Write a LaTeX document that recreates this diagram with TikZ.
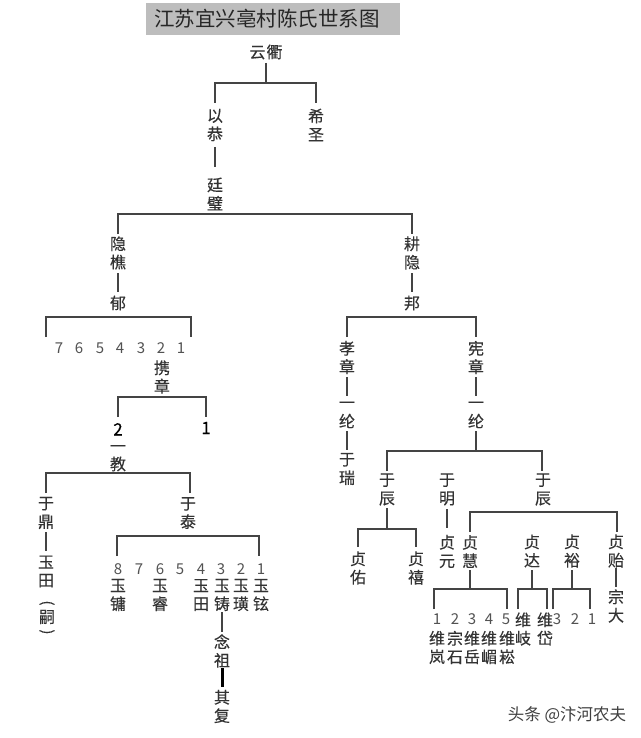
\documentclass[tikz,border=0pt]{standalone}
\usepackage{fontspec}
\usepackage{graphicx}
\setmainfont{Noto Sans CJK SC}
\newfontfamily\cnheavy[FakeBold=0.25]{Noto Sans CJK SC}
\definecolor{ink}{HTML}{333333}
\definecolor{ln}{HTML}{444444}
\definecolor{band}{HTML}{BDBDBD}
\tikzset{
  cn/.style={font=\cnheavy\fontsize{16}{18.4}\selectfont,text=ink,align=center,inner sep=0pt,anchor=center,yshift=-1pt},
  num/.style={font=\fontsize{15}{16}\selectfont,text=ink!85,inner sep=0pt,anchor=center},
  bignum/.style={font=\cnheavy\fontsize{17}{18}\selectfont,text=black,inner sep=0pt,anchor=center},
  conn/.style={draw=ln,line width=1.2pt},
  thickconn/.style={draw=black,line width=3pt},
}
% stem between two named nodes, with the visible span from y #3 to y #4
\newcommand\stem[4]{\draw[conn] (#1.center |- 0,#3) -- (#2.center |- 0,#4);}
% stem from a named node down to a bracket's bar
\newcommand\drop[3]{\draw[conn] (#1.center |- 0,#2) -- (#1.center |- #3);}
% bracket: name, left x, right x, bar y, end y
\newcommand\brk[5]{%
  \coordinate (#1L) at (#2,#4);\coordinate (#1R) at (#3,#4);
  \coordinate (#1l) at (#2,#5);\coordinate (#1r) at (#3,#5);
  \draw[conn] (#1l) -- (#1L) -- (#1R) -- (#1r);}
\begin{document}
\begin{tikzpicture}[x=1pt,y=-1pt]
\useasboundingbox (0,0) rectangle (640,738);
\fill[white] (0,0) rectangle (640,738);
\node[fill=band,minimum width=254pt,minimum height=32pt,inner xsep=8pt,inner ysep=0pt,text width=238pt,align=left,font=\fontsize{20.5}{24}\selectfont,text=black!85] (title) at (273,19) {江苏宜兴亳村陈氏世系图};
\node[cn] (yq) at (266,51) {云\hspace{1pt}衢};
\node[cn] (yg) at (215,124) {以\\恭};
\node[cn] (xs) at (316,124) {希\\圣};
\node[cn] (tb) at (215,193) {廷\\璧};
\node[cn] (yq2) at (118,252) {隐\\樵};
\node[cn] (yu) at (118,302) {郁};
\node[cn] (gy) at (412,252) {耕\\隐};
\node[cn] (bang) at (412,302) {邦};
\foreach \i/\x in {7/59,6/79,5/100,4/120,3/141,2/161,1/181}{\node[num] (a\i) at (\x,348) {\i};}
\node[cn] (xz) at (162,376) {携\\章};
\node[bignum] (b2) at (118,435.5) {\smash{2}};
\node[bignum] (b1) at (206,428) {1};
\node[cn] (yi0) at (118,451) {\smash{一}};
\node[cn] (jiao) at (118,463) {教};
\node[cn] (yd) at (46,512) {于\\鼎};
\node[cn] (yt) at (188,512) {于\\泰};
\node[cn] (ytian) at (46,570.5) {玉\\田};
\node[cn,font=\cnheavy\fontsize{15}{15}\selectfont] (pa) at (47,602) {\rotatebox{-90}{(}};
\node[cn] (si) at (47,616) {嗣};
\node[cn,font=\cnheavy\fontsize{15}{15}\selectfont] (pb) at (47,631) {\rotatebox{-90}{)}};
\foreach \i/\x in {8/118,7/139,6/160,5/180,4/201,3/221,2/241,1/261}{\node[num] (c\i) at (\x,569.5) {\i};}
\node[cn] (y8) at (118,594) {玉\\镛};
\node[cn] (y6) at (160,594) {玉\\睿};
\node[cn] (y4) at (201,594) {玉\\田};
\node[cn] (y3) at (222,594) {玉\\铸};
\node[cn] (y2) at (241,594) {玉\\璜};
\node[cn] (y1) at (261,594) {玉\\铉};
\node[cn] (nz) at (222,650) {念\\祖};
\node[cn] (qf) at (222,705.5) {其\\复};
\node[cn] (xz1) at (347,356.5) {孝\\章};
\node[cn] (yi1) at (347,407.5) {\smash{一}};
\node[cn] (l1) at (347,420) {纶};
\node[cn] (yr) at (347,468) {于\\瑞};
\node[cn] (xz2) at (476,356.5) {宪\\章};
\node[cn] (yi2) at (476,407.5) {\smash{一}};
\node[cn] (l2) at (476,420) {纶};
\node[cn] (yc1) at (387,488.5) {于\\辰};
\node[cn] (ym) at (447,488.5) {于\\明};
\node[cn] (yc2) at (543,488.5) {于\\辰};
\node[cn] (zy) at (358,567) {贞\\佑};
\node[cn] (zx) at (416,567) {贞\\禧};
\node[cn] (zyuan) at (447,550.5) {贞\\元};
\node[cn] (zh) at (470,550.5) {贞\\慧};
\node[cn] (zd) at (532,550) {贞\\达};
\node[cn] (zyu) at (572,550) {贞\\裕};
\node[cn] (zyi) at (616,550) {贞\\贻};
\node[cn] (zdd) at (616,605) {宗\\大};
\foreach \n/\i/\x in {d1/1/437,d2/2/455,d3/3/472,d4/4/489,d5/5/506,e3/3/557,e2/2/575,e1/1/592}{\node[num] (\n) at (\x,619) {\i};}
\node[cn] (w1) at (437,646.5) {维\\岚};
\node[cn] (w2) at (455,646.5) {宗\\石};
\node[cn] (w3) at (472,646.5) {维\\岳};
\node[cn] (w4) at (489,646.5) {维\\嵋};
\node[cn] (w5) at (507,646.5) {维\\崧};
\node[cn] (wq) at (523,628) {维\\岐};
\node[cn] (wd) at (545,628) {维\\岱};
\node[font=\fontsize{16.5}{18}\selectfont,text=black!75,inner sep=0pt] (wm) at (567,715) {头条 @汴河农夫};
% brackets
\brk{A}{215}{316}{83}{103}
\brk{B}{118}{412}{214}{234}
\brk{C}{46}{191}{317}{337}
\brk{D}{347}{476}{317}{337}
\brk{E}{118}{206}{397}{417}
\brk{F}{46}{190}{473}{493}
\brk{G}{117}{259}{536}{556}
\brk{H}{387}{542}{451}{471}
\brk{I}{358}{416}{529}{547}
\brk{J}{470}{617}{512}{532}
\brk{K}{434}{507}{589}{609}
\brk{L}{518}{547}{589}{609}
\brk{M}{553}{590}{589}{609}
% stems
\drop{yq}{63}{AL}
\stem{yg}{tb}{147}{167}
\stem{yq2}{yu}{273}{292}
\stem{gy}{bang}{273}{292}
\stem{yd}{ytian}{532}{551}
\stem{y3}{nz}{612}{632}
\draw[thickconn] (nz.center |- 0,668) -- (qf.center |- 0,687);
\stem{xz1}{yi1}{377}{396}
\stem{l1}{yr}{431}{450}
\stem{xz2}{yi2}{377}{396}
\drop{l2}{431}{HL}
\drop{yc1}{508}{IL}
\stem{ym}{zyuan}{509}{528}
\drop{zh}{570}{KL}
\drop{zd}{570}{LL}
\drop{zyu}{570}{ML}
\stem{zyi}{zdd}{568}{587}
\end{tikzpicture}
\end{document}
